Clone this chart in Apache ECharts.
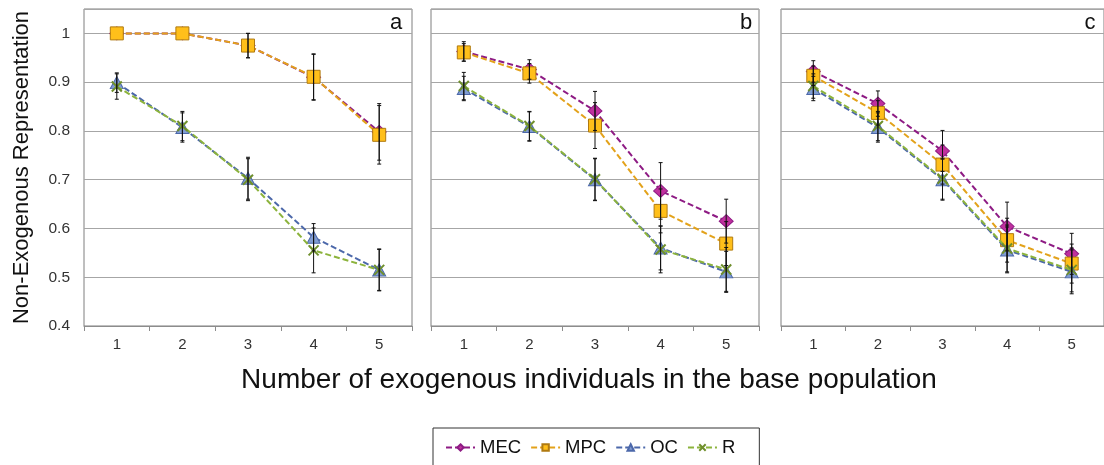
<!DOCTYPE html>
<html>
<head>
<meta charset="utf-8">
<script src="https://cdn.jsdelivr.net/npm/echarts@6/dist/echarts.min.js"></script>
<style>html,body{margin:0;padding:0;background:#fff;}#c{width:1104px;height:465px;}</style>
</head>
<body>
<div id="c"></div>
<script>
// ---- data ----
const categories = ['1', '2', '3', '4', '5'];
const seriesNames = ['MEC', 'MPC', 'OC', 'R'];
const panelLabels = ['a', 'b', 'c'];
const yTicks = [0.4, 0.5, 0.6, 0.7, 0.8, 0.9, 1];

// panel a
const mecA = [1.0, 1.0, 0.975, 0.91, 0.798];
const mpcA = [1.0, 1.0, 0.975, 0.911, 0.792];
const ocA  = [0.899, 0.807, 0.703, 0.582, 0.515];
const rA   = [0.891, 0.810, 0.700, 0.555, 0.515];
const mecErrA = [0, 0, 0.025, 0.047, 0.058];
const mpcErrA = [0, 0, 0.025, 0.047, 0.06];
const ocErrA  = [0.02, 0.03, 0.043, 0.028, 0.042];
const rErrA   = [0.026, 0.03, 0.043, 0.046, 0.043];

// panel b
const mecB = [0.963, 0.926, 0.841, 0.677, 0.615];
const mpcB = [0.961, 0.918, 0.811, 0.636, 0.569];
const ocB  = [0.887, 0.809, 0.700, 0.560, 0.511];
const rB   = [0.892, 0.810, 0.701, 0.557, 0.516];
const mecErrB = [0.02, 0.02, 0.04, 0.058, 0.045];
const mpcErrB = [0.018, 0.02, 0.047, 0.045, 0.045];
const ocErrB  = [0.025, 0.03, 0.043, 0.045, 0.042];
const rErrB   = [0.028, 0.03, 0.043, 0.048, 0.045];

// panel c
const mecC = [0.922, 0.856, 0.759, 0.604, 0.548];
const mpcC = [0.913, 0.837, 0.731, 0.576, 0.528];
const ocC  = [0.887, 0.807, 0.700, 0.556, 0.511];
const rC   = [0.892, 0.810, 0.702, 0.559, 0.515];
const mecErrC = [0.022, 0.026, 0.042, 0.05, 0.042];
const mpcErrC = [0.02, 0.025, 0.04, 0.045, 0.04];
const ocErrC  = [0.025, 0.03, 0.042, 0.047, 0.045];
const rErrC   = [0.025, 0.03, 0.042, 0.048, 0.045];

const xTitle = 'Number of exogenous individuals in the base population';
const yTitle = 'Non-Exogenous Representation';

// ---- styles ----
const FONT = 'Liberation Sans, Arial, sans-serif';
const styles = {
  MEC: { line: '#8e1b84', fill: '#c0309e', border: '#8e1b84', symbol: 'diamond', size: [14, 13] },
  MPC: { line: '#e3a21a', fill: '#ffbf1a', border: '#b07a10', symbol: 'rect', size: [13, 13] },
  OC:  { line: '#4c68aa', fill: '#809cd2', border: '#4c68aa', symbol: 'triangle', size: [13, 12] },
  R:   { line: '#8cb33c', fill: '#7a9a34', border: '#6f8f2c', symbol: 'path://M0,0L10,10M10,0L0,10', size: [10, 10] }
};

const panelData = [
  { vals: [mecA, mpcA, ocA, rA], errs: [mecErrA, mpcErrA, ocErrA, rErrA] },
  { vals: [mecB, mpcB, ocB, rB], errs: [mecErrB, mpcErrB, ocErrB, rErrB] },
  { vals: [mecC, mpcC, ocC, rC], errs: [mecErrC, mpcErrC, ocErrC, rErrC] }
];

const gridLefts = [84, 431, 781];
const grids = gridLefts.map(l => ({
  left: l, top: 9, width: 328, height: 317,
  show: true, borderColor: '#7f7f7f', borderWidth: 1, backgroundColor: '#fff'
}));

const xAxes = gridLefts.map((l, i) => ({
  type: 'category', gridIndex: i, data: categories, boundaryGap: true,
  axisLine: { lineStyle: { color: '#8c8c8c', width: 1 } },
  axisTick: { show: true, length: 5, lineStyle: { color: '#8c8c8c' } },
  axisLabel: { fontSize: 15, color: '#333', margin: 11, fontFamily: FONT }
}));

const yAxes = gridLefts.map((l, i) => ({
  type: 'value', gridIndex: i, min: 0.4, max: 1.05, interval: 0.1,
  axisLine: { show: false }, axisTick: { show: false },
  splitLine: { lineStyle: { color: '#a6a6a6', width: 1 } },
  axisLabel: {
    show: i === 0, fontSize: 15.5, color: '#333', margin: 14, fontFamily: FONT,
    formatter: v => {
      const t = yTicks.find(k => Math.abs(k - v) < 1e-6);
      if (t === undefined) return '';
      return t === 1 ? '1' : t.toFixed(1);
    }
  },
  name: i === 0 ? yTitle : '',
  nameLocation: 'middle', nameRotate: 90, nameGap: 51,
  nameTextStyle: { fontSize: 22, color: '#111', fontFamily: FONT }
}));

const series = [];
panelData.forEach((p, pi) => {
  seriesNames.forEach((name, si) => {
    const st = styles[name];
    series.push({
      name, type: 'line', xAxisIndex: pi, yAxisIndex: pi,
      data: p.vals[si], symbol: st.symbol, symbolSize: st.size,
      lineStyle: { color: st.line, width: 2, type: [6, 3] },
      itemStyle: { color: st.fill, borderColor: st.border, borderWidth: name === 'R' ? 2 : 1 },
      emphasis: { disabled: true }, animation: false, z: 2 + si
    });
  });
  seriesNames.forEach((name, si) => {
    const vals = p.vals[si], errs = p.errs[si];
    const data = vals.map((v, i) => [i, v - errs[i], v + errs[i]]).filter((d, i) => errs[i] > 0);
    series.push({
      type: 'custom', xAxisIndex: pi, yAxisIndex: pi, z: 10, silent: true, animation: false,
      data,
      renderItem: (params, api) => {
        const lo = api.coord([api.value(0), api.value(1)]);
        const hi = api.coord([api.value(0), api.value(2)]);
        const cw = 2;
        const s = { stroke: '#111', lineWidth: 1 };
        return { type: 'group', children: [
          { type: 'line', shape: { x1: lo[0], y1: lo[1], x2: hi[0], y2: hi[1] }, style: s },
          { type: 'line', shape: { x1: lo[0] - cw, y1: lo[1], x2: lo[0] + cw, y2: lo[1] }, style: s },
          { type: 'line', shape: { x1: hi[0] - cw, y1: hi[1], x2: hi[0] + cw, y2: hi[1] }, style: s }
        ]};
      },
      encode: { x: 0, y: [1, 2] }
    });
  });
});

const panelX = [396, 746, 1090];
const graphics = panelLabels.map((t, i) => ({
  type: 'text', x: panelX[i], y: 23, z: 100,
  style: { text: t, fontSize: 22, fill: '#111', textAlign: 'center', textVerticalAlign: 'middle', fontFamily: FONT }
}));
graphics.push({
  type: 'text', x: 589, y: 380, z: 100,
  style: { text: xTitle, fontSize: 28, fill: '#111', textAlign: 'center', textVerticalAlign: 'middle', fontFamily: FONT }
});

const chart = echarts.init(document.getElementById('c'), null, { renderer: 'canvas' });
chart.setOption({
  animation: false,
  backgroundColor: '#fff',
  grid: grids, xAxis: xAxes, yAxis: yAxes,
  legend: {
    data: seriesNames, top: 428, left: 433,
    itemWidth: 29, itemHeight: 8, itemGap: 9,
    padding: [10, 24, 10, 12], borderColor: '#333', borderWidth: 1,
    textStyle: { fontSize: 18.5, color: '#111', fontFamily: FONT }
  },
  graphic: graphics,
  series
});
</script>
</body>
</html>
